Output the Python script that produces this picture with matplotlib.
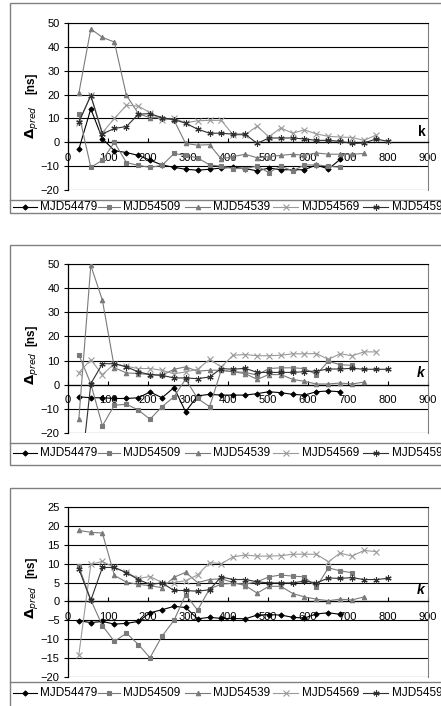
import matplotlib
matplotlib.use("Agg")
import matplotlib.pyplot as plt
from matplotlib.lines import Line2D
from matplotlib.patches import Rectangle

plt.rcParams['font.family'] = ['Liberation Sans', 'DejaVu Sans']

# ---------------- data ----------------
k_values = [27, 57, 86, 116, 146, 176, 205, 235, 265, 294, 324, 354, 383, 413,
            443, 473, 502, 532, 562, 591, 621, 651, 680, 710, 740, 770, 799]

series_names = ["MJD54479", "MJD54509", "MJD54539", "MJD54569", "MJD54599"]

p1_54479 = [-3, 14, 1.5, -3.5, -4.3, -5.5, -7.5, -9.5, -10.5, -11.3, -11.7, -11.3, -10.8,
            -10.5, -11, -12, -10.8, -11.5, -11.5, -11.5, -9.5, -11.2, -7.2]
p1_54509 = [12, -10.5, -7.5, 0, -8.5, -9.7, -10.5, -9.7, -4.7, -5.5, -6.5, -9.5, -10, -11,
            -11, -10, -12.7, -10, -12, -9.5, -9.5, -10, -10.5]
p1_54539 = [20.5, 47.5, 44, 42, 19.7, 12, 10.3, 10.3, 9.3, -0.5, -1.2, -1, -7, -6, -5,
            -6.5, -6, -5.5, -5, -5.5, -4.5, -5, -5, -5, -4.7]
p1_54569 = [8.2, 19.8, 4, 10, 15.5, 15.2, 12.4, 9.2, 10, 8.2, 9, 9.2, 9.2, 3.1, 3.1, 6.8,
            2.3, 6, 3.8, 5.2, 3.5, 2.5, 2.2, 2, 0.8, 3]
p1_54599 = [8.5, 19.5, 3.5, 5.8, 6.6, 11.8, 12, 10.3, 9.5, 8, 5.5, 3.8, 3.8, 3.4, 3.4,
            -0.5, 1.8, 1.8, 1.8, 1.4, 0.8, 0.8, 0.4, -0.5, -0.3, 1.4, 0.4]

p2_54479 = [-5, -5.4, -5.4, -5.7, -5.7, -5.4, -3, -5.4, -1.2, -11.2, -4.6, -4, -4.3, -4.3,
            -4.3, -3.7, -2.9, -3.3, -4, -4.3, -2.9, -2.6, -2.9]
p2_54509 = [12.5, 0.4, -17, -8.5, -8.1, -10.5, -14.3, -9.1, -5, 2.3, -5.7, -9.1, 6, 5.4,
            5.1, 4, 6.7, 7, 7, 6.7, 4.2, 9.7, 8.3, 8]
p2_54539 = [-14.4, 49.4, 35, 7, 4.9, 4.6, 4.2, 3.9, 6.4, 7.4, 5.6, 6, 6, 5.3, 4.6, 2.2,
            4.2, 4.2, 2.2, 1.4, 0.3, 0.3, 0.7, 0.3, 1.1]
p2_54569 = [5, 10.3, 4.2, 8.7, 7.6, 6.7, 6.7, 6, 4.5, 5.3, 6.4, 10.5, 7.4, 12.2, 12.5, 12,
            12, 12.2, 12.8, 12.8, 12.9, 10.5, 12.8, 12, 13.6, 13.6]
p2_54599 = [-45, 0.4, 8.7, 8.7, 7.4, 5.3, 4.2, 3.9, 2.8, 2.8, 2.5, 3.2, 6.7, 6.4, 6.8,
            5.1, 5.1, 5.1, 5.1, 5.4, 5.7, 6.5, 6.5, 6.8, 6.4, 6.4, 6.4]

p3_54479 = [-5.1, -5.6, -5.3, -6, -5.8, -5.3, -3, -2.2, -1.3, -1.6, -4.6, -4.2, -4.5, -4.5,
            -4.6, -3.6, -3.5, -3.6, -4.2, -4.4, -3.3, -3, -3.4]
p3_54509 = [9.3, 0.4, -6.4, -10.6, -8.4, -11.4, -14.9, -9.2, -5, 1.8, -2.3, 3.3, 4.6, 4.8,
            4.6, 5.2, 6.5, 7, 6.7, 6.5, 3.8, 8.9, 8.1, 7.6]
p3_54539 = [18.8, 18.3, 18.1, 6.9, 5.1, 4.5, 4.2, 3.6, 6.4, 7.7, 5, 5.8, 6, 5, 4.2, 2.2,
            4, 4, 2.1, 1.2, 0.6, 0.2, 0.6, 0.4, 1.2]
p3_54569 = [-14.2, 9.8, 10.6, 9, 7.7, 6.1, 6.6, 5, 5, 5.5, 7, 10.3, 10, 11.8, 12.3, 12,
            12, 12.1, 12.5, 12.5, 12.5, 10.5, 12.8, 12, 13.5, 13.2]
p3_54599 = [8.6, 0.3, 9, 9, 7.6, 5.8, 4.5, 4.9, 2.9, 2.9, 2.7, 3.1, 6.5, 5.8, 5.8, 5.2,
            4.9, 4.9, 4.9, 5.4, 4.9, 6.2, 6.1, 6.3, 5.8, 5.8, 6.1]

panel_data = [
    [p1_54479, p1_54509, p1_54539, p1_54569, p1_54599],
    [p2_54479, p2_54509, p2_54539, p2_54569, p2_54599],
    [p3_54479, p3_54509, p3_54539, p3_54569, p3_54599],
]
y_ticks_12 = [-20, -10, 0, 10, 20, 30, 40, 50]
y_ticks_3 = [-20, -15, -10, -5, 0, 5, 10, 15, 20, 25]
x_ticks = [0, 100, 200, 300, 400, 500, 600, 700, 800, 900]

# ---------------- styles ----------------
colors = ["#000000", "#7a7a7a", "#7a7a7a", "#9a9a9a", "#303030"]
markers = ["D", "s", "^", "x", (6, 2, 0)]
msizes = [2.6, 2.8, 3.2, 4.0, 4.5]

W, H = 441, 706
fig = plt.figure(figsize=(W / 100, H / 100), dpi=100)


def fx(x):
    return x / W


def fy(y):
    return 1 - y / H


panels = [
    dict(top=23, bot=190, ftop=3, fbot=213, sep=200, leg=207, yl=(-20, 50), yt=y_ticks_12,
         kx=422, ky=132, kital=False, ns_y=83, d_y=122),
    dict(top=264, bot=433, ftop=245, fbot=465, sep=443, leg=453, yl=(-20, 50), yt=y_ticks_12,
         kx=421, ky=373, kital=True, ns_y=335, d_y=368),
    dict(top=507, bot=677, ftop=488, fbot=712, sep=682, leg=693, yl=(-20, 25), yt=y_ticks_3,
         kx=421, ky=590, kital=True, ns_y=567, d_y=602),
]
PL, PR = 68, 428
FL = 10

for p, data in zip(panels, panel_data):
    fig.add_artist(Rectangle((fx(FL), fy(p['fbot'])), 1.1, (p['fbot'] - p['ftop']) / H,
                             transform=fig.transFigure, fill=False, edgecolor="#808080",
                             linewidth=1.0))
    fig.add_artist(Line2D([fx(FL), 1.0], [fy(p['sep']), fy(p['sep'])],
                          transform=fig.transFigure, color="#808080", linewidth=1.0))

    ax = fig.add_axes([fx(PL), fy(p['bot']), (PR - PL) / W, (p['bot'] - p['top']) / H])
    for vals, c, m, ms in zip(data, colors, markers, msizes):
        ax.plot(k_values[:len(vals)], vals, color=c, marker=m, markersize=ms,
                markeredgewidth=0.8, linewidth=0.8, zorder=3)
    ax.set_xlim(0, 900)
    ax.set_ylim(*p['yl'])
    ax.set_yticks(p['yt'])
    ax.set_xticks(x_ticks)
    for yv in p['yt']:
        ax.axhline(yv, color="#000000", linewidth=0.8, zorder=1)
    ax.spines['bottom'].set_position(('data', 0))
    ax.spines['bottom'].set_color('#000000')
    ax.spines['bottom'].set_linewidth(0.9)
    ax.spines['left'].set_linewidth(0.9)
    ax.spines['right'].set_color('#808080')
    ax.spines['top'].set_linewidth(0.8)
    ax.tick_params(axis='x', direction='in', length=3, pad=7.5, labelsize=8)
    ax.tick_params(axis='y', direction='out', length=3, pad=3, labelsize=8)
    for lab in ax.get_xticklabels():
        lab.set_zorder(4)
    ax.patch.set_alpha(0)

    fig.text(fx(31), fy(p['ns_y']), "[ns]", rotation=90, ha='center', va='center',
             fontsize=8.5, fontweight='bold')
    fig.text(fx(31), fy(p['d_y']), r"$\mathbf{\Delta}_{pred}$", rotation=90, ha='center',
             va='center', fontsize=9.5)
    fig.text(fx(p['kx']), fy(p['ky']), "k", ha='center', va='center', fontsize=10,
             fontweight='bold', fontstyle='italic' if p['kital'] else 'normal')

    line_x = [(13, 37), (98, 120), (185, 210), (273, 298), (363, 388)]
    text_x = [40, 123, 213, 302, 392]
    for (x0, x1), tx, c, m, ms, name in zip(line_x, text_x, colors, markers, msizes, series_names):
        fig.add_artist(Line2D([fx(x0), fx(x1)], [fy(p['leg'])] * 2, transform=fig.transFigure,
                              color=c, linewidth=0.8))
        fig.add_artist(Line2D([fx((x0 + x1) / 2)], [fy(p['leg'])], transform=fig.transFigure,
                              color=c, marker=m, markersize=ms, markeredgewidth=0.8,
                              linestyle='none'))
        fig.text(fx(tx), fy(p['leg']), name, ha='left', va='center', fontsize=8.5)

fig.savefig("out.png", dpi=100)
